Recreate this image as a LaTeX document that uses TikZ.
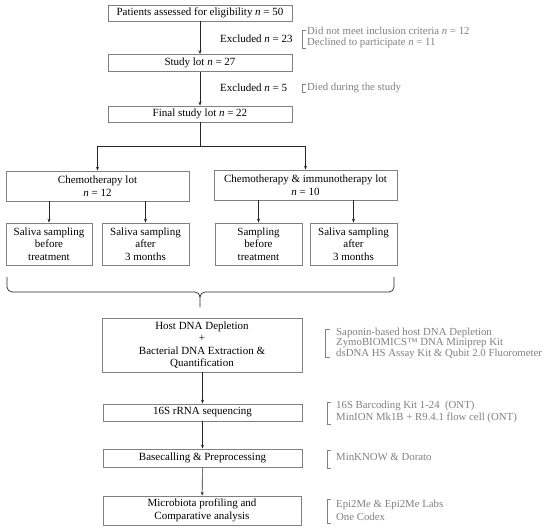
\documentclass[tikz,border=0pt]{standalone}
\usepackage{fontspec}
\setmainfont{Liberation Serif}
\usetikzlibrary{arrows.meta}
\definecolor{boxline}{gray}{0.5}
\definecolor{annotc}{gray}{0.5}
\begin{document}
\begin{tikzpicture}[x=1pt,y=-1pt,
  box/.style={draw=boxline, line width=0.7pt, inner sep=0pt, align=center,
    font=\fontsize{11}{12.5}\selectfont},
  arr/.style={-{Stealth[length=4pt,width=3pt]}, line width=0.6pt, draw=black!85},
  conn/.style={line width=0.6pt, draw=black!85},
  excl/.style={anchor=west, inner sep=0pt, font=\fontsize{11}{12}\selectfont},
  annot/.style={text=annotc, align=left, anchor=west, inner sep=0pt,
    font=\fontsize{10.8}{11.5}\selectfont},
  brk/.style={draw=annotc, line width=0.6pt},
  bracestyle/.style={draw=black!85, line width=0.7pt}]
\useasboundingbox (0,0) rectangle (550,531);

% top chain
\node[box, minimum width=184pt, minimum height=16pt] (p) at (200,13) {Patients assessed for eligibility \textit{n} = 50};
\node[box, minimum width=184pt, minimum height=17pt] (s) at (200,63) {Study lot \textit{n} = 27};
\node[box, minimum width=184pt, minimum height=16pt] (f) at (200,114) {Final study lot \textit{n} = 22};
\draw[arr] (p) -- (s);
\draw[arr] (s) -- (f);

\node[excl] (e1) at (220,39) {Excluded \textit{n} = 23};
\node[excl] (e2) at (220,88) {Excluded \textit{n} = 5};
\node[annot] (n1) at (307,37.5) {Did not meet inclusion criteria \textit{n} = 12\\Declined to participate \textit{n} = 11};
\node[annot] (n2) at (307,88) {Died during the study};
\draw[brk] (306,30) -- (302,30) -- (302,48) -- (306,48);
\draw[brk] (306,84.5) -- (302,84.5) -- (302,92.5) -- (306,92.5);

% lots
\node[box, minimum width=183pt, minimum height=30pt] (c1) at (97.5,186) {Chemotherapy lot\\\textit{n} = 12};
\node[box, minimum width=183pt, minimum height=30pt] (c2) at (305.5,185) {Chemotherapy \& immunotherapy lot\\\textit{n} = 10};
\coordinate (j) at (200,146);
\draw[conn] (f.south) -- (j);
\draw[arr] (j) -| (c1.north);
\draw[arr] (j) -| (c2.north);

% samples
\node[box, minimum width=86pt, minimum height=42pt] (a1) at (49,244) {Saliva sampling\\before\\treatment};
\node[box, minimum width=87pt, minimum height=42pt] (a2) at (145.5,244) {Saliva sampling\\after\\3 months};
\node[box, minimum width=87pt, minimum height=42pt] (b1) at (258.5,244) {Sampling\\before\\treatment};
\node[box, minimum width=87pt, minimum height=42pt] (b2) at (353.5,244) {Saliva sampling\\after\\3 months};
\draw[arr] (c1.south -| a1.north) -- (a1.north);
\draw[arr] (c1.south -| a2.north) -- (a2.north);
\draw[arr] (c2.south -| b1.north) -- (b1.north);
\draw[arr] (c2.south -| b2.north) -- (b2.north);

% brace
\draw[bracestyle] (7,277) -- (7,287) to[out=-90,in=180] (12,292) -- (195,292) to[out=0,in=90] (200,297) -- (200,307);
\draw[bracestyle] (394,277) -- (394,287) to[out=-90,in=0] (389,292) -- (205,292) to[out=180,in=90] (200,297);

% processing
\node[box, minimum width=200pt, minimum height=54pt] (h) at (202,345) {Host DNA Depletion\\+\\Bacterial DNA Extraction \&\\Quantification};
\node[box, minimum width=199pt, minimum height=17pt] (r) at (202.5,412.5) {16S rRNA sequencing};
\node[box, minimum width=199pt, minimum height=18pt] (bc) at (202.5,458) {Basecalling \& Preprocessing};
\node[box, minimum width=198pt, minimum height=29pt] (m) at (202,510.5) {Microbiota profiling and\\Comparative analysis};
\draw[arr] (h.south -| r.north) -- (r.north);
\draw[arr] (r) -- (bc);
\draw[arr] (bc) -- (m);

\node[annot, font=\fontsize{10.8}{10.5}\selectfont] (t1) at (336,343) {Saponin-based host DNA Depletion\\ZymoBIOMICS™ DNA Miniprep Kit\\dsDNA HS Assay Kit \& Qubit 2.0 Fluorometer};
\node[annot, font=\fontsize{10.8}{12}\selectfont] (t2) at (336,412) {16S Barcoding Kit 1-24~~(ONT)\\MinION Mk1B + R9.4.1 flow cell (ONT)};
\node[annot] (t3) at (336,457) {MinKNOW \& Dorato};
\node[annot, font=\fontsize{10.8}{13}\selectfont] (t4) at (336,510.5) {Epi2Me \& Epi2Me Labs\\One Codex};
\draw[brk] (330,329) -- (325,329) -- (325,357) -- (330,357);
\draw[brk] (331,402) -- (327,402) -- (327,424) -- (331,424);
\draw[brk] (331,450) -- (327,450) -- (327,468) -- (331,468);
\draw[brk] (331,499) -- (327,499) -- (327,523) -- (331,523);
\end{tikzpicture}
\end{document}
